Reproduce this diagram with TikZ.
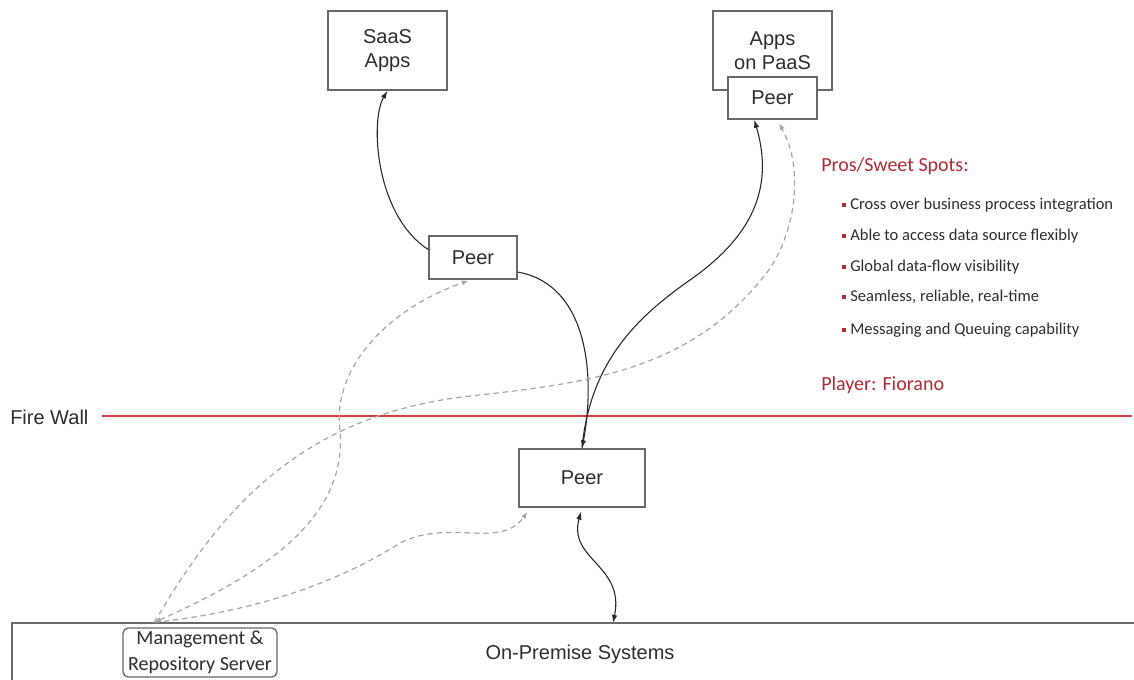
\documentclass[tikz,border=0pt]{standalone}
\usepackage{fontspec}
\setmainfont{Liberation Sans}
\newfontfamily\carlito{Carlito}
\usetikzlibrary{arrows.meta}

\definecolor{boxgray}{RGB}{105,105,105}
\definecolor{textgray}{RGB}{45,45,45}
\definecolor{dashgray}{RGB}{165,165,165}
\definecolor{wallred}{RGB}{214,62,62}
\definecolor{prored}{RGB}{178,42,52}

\begin{document}
\begin{tikzpicture}[x=0.75pt, y=-0.75pt,
    peerbox/.style={draw=boxgray, line width=1.1pt, fill=white, inner sep=0pt, align=center,
        text=textgray, font=\fontsize{15}{18}\selectfont},
    solidlink/.style={black!85, line width=0.8pt, -{Latex[length=6pt,width=4pt]}},
    mgmtlink/.style={dashgray, line width=0.9pt, dash pattern=on 4pt off 3pt, -{Latex[length=5pt,width=4pt]}},
    prohead/.style={anchor=west, inner sep=0pt, text=prored, font=\carlito\fontsize{15}{18}\selectfont},
    listitem/.style={anchor=west, inner sep=0pt, text=textgray, font=\carlito\fontsize{12.4}{14}\selectfont}]

\useasboundingbox (0,0) rectangle (1134,679);

% cloud side
\node[peerbox, minimum width=89.25pt, minimum height=59.25pt] (saas) at (387.5,50.5) {SaaS\\Apps};
\node[peerbox, minimum width=89.25pt, minimum height=59.25pt] (paas) at (772.5,50.5) {Apps\\on PaaS};
\node[peerbox, minimum width=66.75pt, minimum height=31.5pt] (paaspeer) at (772.5,98) {Peer};
\node[peerbox, minimum width=66pt, minimum height=32.25pt] (cloudpeer) at (473,257.5) {Peer};

% fire wall
\node[anchor=west, inner sep=0pt, text=textgray, font=\fontsize{15}{18}\selectfont] (fwlabel) at (10,417) {Fire Wall};
\draw[wallred, line width=1pt] (102,416) -- (1132,416);

% premises
\node[peerbox, minimum width=94.5pt, minimum height=43.5pt] (gatepeer) at (582,478) {Peer};
\node[draw=boxgray, line width=1.1pt, inner sep=0pt, minimum width=852pt, minimum height=46.5pt,
    text=textgray, font=\fontsize{15}{18}\selectfont] (onprem) at (580,654) {On-Premise Systems};
\node[draw=boxgray, line width=1pt, rounded corners=4pt, fill=white, inner sep=0pt, align=center,
    minimum width=115.5pt, minimum height=36.75pt, text=textgray,
    font=\carlito\fontsize{15}{19.5}\selectfont] (mgmt) at (200,652.5) {Management \&\\Repository Server};
\coordinate (mgmttop) at ([shift={(32,-5)}]mgmt.north west);
\coordinate (premin) at (613,623);

% data flow
\draw[solidlink] (cloudpeer.170) .. controls (375,215) and (370,120) .. (saas.south);
\draw[solidlink] (cloudpeer.-18) .. controls (590,285) and (595,380) .. (gatepeer.north);
\draw[solidlink] (gatepeer.north) .. controls (590,360) and (640,315) .. (690,280)
    .. controls (750,238) and (775,190) .. (paaspeer.-130);
\draw[solidlink, {Latex[length=6pt,width=4pt]}-{Latex[length=6pt,width=4pt]}, shorten <=3pt]
    (gatepeer.south) .. controls (568,560) and (625,565) .. (premin);

% management links
\draw[mgmtlink, {Latex[length=5pt,width=4pt]}-{Latex[length=5pt,width=4pt]}, shorten >=2pt]
    (mgmttop) .. controls (260,575) and (348,520) .. (340,430)
    .. controls (332,370) and (385,310) .. (cloudpeer.-95);
\draw[mgmtlink, shorten >=3pt] (mgmttop) .. controls (220,510) and (300,415) .. (470,396)
    .. controls (590,383) and (690,370) .. (765,275)
    .. controls (795,237) and (805,170) .. (paaspeer.-78);
\draw[mgmtlink, shorten >=4pt] (mgmttop) .. controls (270,610) and (350,575) .. (400,543)
    .. controls (450,518) and (500,550) .. (gatepeer.-150);

% pros list
\node[prohead] (prohdr) at (821,166) {Pros/Sweet Spots:};
\node[listitem] (pro1) at (850,205) {Cross over business process integration};
\node[listitem] (pro2) at (850,236) {Able to access data source flexibly};
\node[listitem] (pro3) at (850,267) {Global data-flow visibility};
\node[listitem] (pro4) at (850,297) {Seamless, reliable, real-time};
\node[listitem] (pro5) at (850,330) {Messaging and Queuing capability};
\fill[prored] ([shift={(-8,-2)}]pro1.west) rectangle ++(4,4);
\fill[prored] ([shift={(-8,-2)}]pro2.west) rectangle ++(4,4);
\fill[prored] ([shift={(-8,-2)}]pro3.west) rectangle ++(4,4);
\fill[prored] ([shift={(-8,-2)}]pro4.west) rectangle ++(4,4);
\fill[prored] ([shift={(-8,-2)}]pro5.west) rectangle ++(4,4);
\node[prohead] (player) at (821,385) {Player: Fiorano};

\end{tikzpicture}
\end{document}
